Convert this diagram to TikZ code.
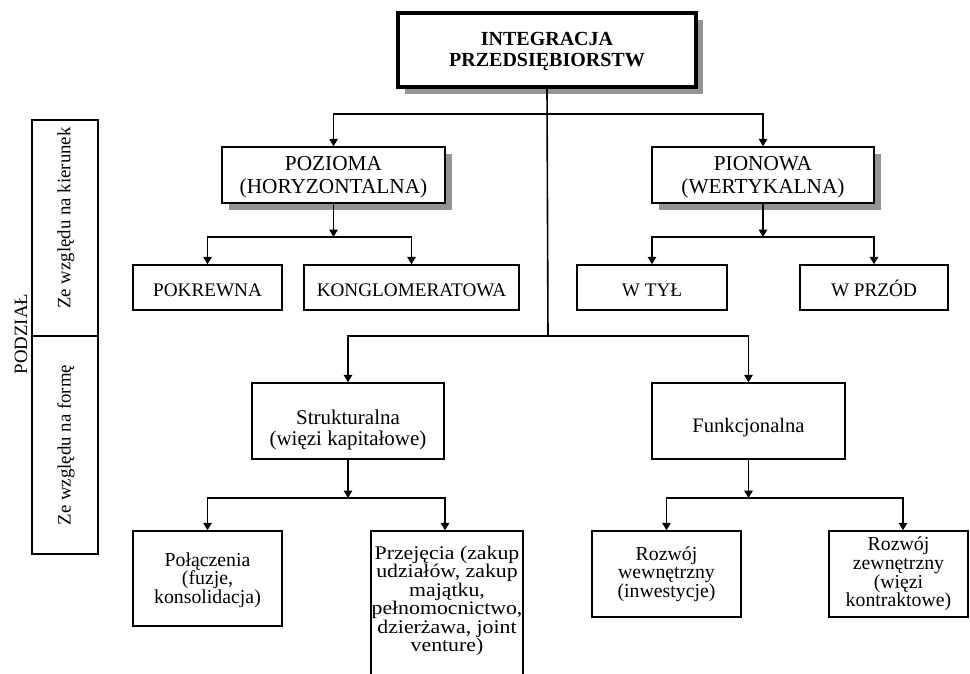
\documentclass[tikz,border=0pt]{standalone}
\usepackage{fontspec}
\setmainfont{Liberation Serif}
\newfontfamily\wideserif[FakeStretch=1.13]{Liberation Serif}
\usetikzlibrary{arrows.meta,shadows}

% font sizes used in the chart
\newcommand\szTop{\fontsize{20}{21.5}\selectfont\bfseries}
\newcommand\szMain{\fontsize{21.3}{23.5}\selectfont}
\newcommand\szSub{\fontsize{19.2}{22}\selectfont}
\newcommand\szForm{\fontsize{21}{21}\selectfont}
\newcommand\szLeaf{\fontsize{19.8}{18.6}\selectfont}
\newcommand\szTight{\wideserif\fontsize{19.3}{17.2}\selectfont}
\newcommand\szSide{\fontsize{18.8}{22}\selectfont}
% invisible strut that sets the height of a first text line
\newcommand\lineh[1]{\rule{0pt}{#1}}

\begin{document}
\begin{tikzpicture}[x=1pt,y=-1pt,
  box/.style={draw, line width=1.4pt, rectangle, inner sep=0pt, align=center, fill=white},
  shadowed/.style={drop shadow={shadow xshift=7pt, shadow yshift=-7pt, fill=black!42, opacity=1}},
  oneline/.style={text height=#1, text depth=0pt},
  link/.style={line width=1.6pt},
  arr/.style={link, -{Triangle[width=8.5pt,length=7.5pt]}},
]
\useasboundingbox (0,0) rectangle (970,674);

% ---- root ----
\node[box, shadowed, line width=3.2pt, minimum width=298pt, minimum height=74pt, font=\szTop]
  (top) at (547,50) {\lineh{16.5pt}INTEGRACJA\\PRZEDSIĘBIORSTW};

% ---- direction level ----
\node[box, shadowed, minimum width=223pt, minimum height=56pt, font=\szMain]
  (poz) at (333.5,175) {\lineh{18.6pt}POZIOMA\\(HORYZONTALNA)};
\node[box, shadowed, minimum width=222pt, minimum height=56pt, font=\szMain]
  (pion) at (763,175) {\lineh{18.6pt}PIONOWA\\(WERTYKALNA)};

\node[box, oneline=18.4pt, minimum width=149pt, minimum height=45pt, font=\szSub] (pokr) at (207.5,287.5) {POKREWNA};
\node[box, oneline=18.4pt, minimum width=215pt, minimum height=45pt, font=\szSub] (kong) at (411.5,287.5) {KONGLOMERATOWA};
\node[box, oneline=18.4pt, minimum width=150pt, minimum height=45pt, font=\szSub] (tyl) at (652,287.5) {W TYŁ};
\node[box, oneline=18.4pt, minimum width=148pt, minimum height=45pt, font=\szSub] (przod) at (874,287.5) {W PRZÓD};

% ---- form level ----
\node[box, minimum width=192pt, minimum height=76pt, font=\szForm]
  (str) at (348,421) {\lineh{31.7pt}Strukturalna\\(więzi kapitałowe)};
\node[box, oneline=22pt, minimum width=193pt, minimum height=76pt, font=\fontsize{20.6}{23}\selectfont]
  (fun) at (748.5,421) {Funkcjonalna};

\node[box, minimum width=149pt, minimum height=95pt, font=\szLeaf]
  (pol) at (207.5,578.5) {\lineh{17pt}Połączenia\\(fuzje,\\konsolidacja)};
\node[align=center, inner sep=0pt, anchor=north, font=\szTight]
  (przej) at (447,545.5) {Przejęcia (zakup\\udziałów, zakup\\majątku,\\pełnomocnictwo,\\dzierżawa, joint\\venture)};
\node[box, minimum width=149pt, minimum height=86pt, font=\szLeaf]
  (wew) at (666.5,574) {Rozwój\\wewnętrzny\\(inwestycje)};
\node[box, minimum width=139pt, minimum height=86pt, font=\szLeaf]
  (zew) at (898.5,574) {Rozwój\\zewnętrzny\\(więzi\\kontraktowe)};

% open frame of the acquisitions box, running off the lower edge
\draw[line width=1.4pt] (371,680) -- (371,531) -- (523,531) -- (523,680);

% ---- side panel ----
\node[draw, line width=1.4pt, minimum width=66pt, minimum height=216pt, inner sep=0pt]
  (kier) at (65,228) {};
\node[draw, line width=1.4pt, minimum width=66pt, minimum height=218pt, inner sep=0pt]
  (forma) at (65,445) {};
\node[rotate=90, inner sep=0pt, font=\szSide] (kiertxt) at (66,218) {Ze względu na kierunek};
\node[rotate=90, inner sep=0pt, font=\szSide] (formatxt) at (66,445) {Ze względu na formę};
\node[rotate=90, inner sep=0pt, font=\szSide] (podz) at (21,334) {PODZIAŁ};

% ---- junctions ----
\coordinate (j1) at (548,114);
\coordinate (j2) at (548,336);
\coordinate (ja) at (333.5,237);
\coordinate (jb) at (763,237);
\coordinate (jc) at (348,498);
\coordinate (jd) at (748.5,498);
\coordinate (przejtop) at (445,530.3);
\coordinate (zewtop) at (903,530.3);

% ---- connectors ----
\draw[link] (top.south) -- (j2);
\draw[arr] (j1) -| (poz.north);
\draw[arr] (j1) -| (pion.north);
\draw[arr] (j2) -| (str.north);
\draw[arr] (j2) -| (fun.north);

\draw[arr] (poz.south) -- (ja);
\draw[arr] (ja) -| (pokr.north);
\draw[arr] (ja) -| (kong.north);

\draw[arr] (pion.south) -- (jb);
\draw[arr] (jb) -| (tyl.north);
\draw[arr] (jb) -| (przod.north);

\draw[arr] (str.south) -- (jc);
\draw[arr] (jc) -| (pol.north);
\draw[arr] (jc) -| (przejtop);

\draw[arr] (fun.south) -- (jd);
\draw[arr] (jd) -| (wew.north);
\draw[arr] (jd) -| (zewtop);
\end{tikzpicture}
\end{document}
